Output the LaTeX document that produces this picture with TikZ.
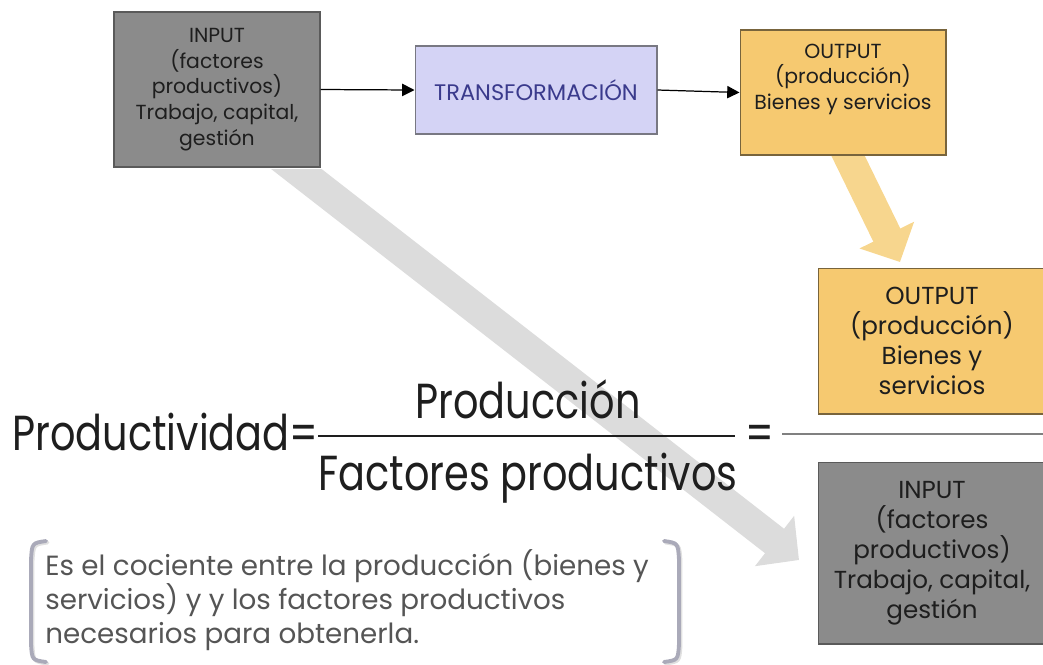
\documentclass[tikz,border=0pt]{standalone}
\usepackage{fontspec}
\setmainfont{Poppins}
\usetikzlibrary{arrows.meta,calc}
\definecolor{boxgray}{RGB}{139,139,139}
\definecolor{boxgrayline}{RGB}{90,90,90}
\definecolor{lav}{RGB}{212,211,245}
\definecolor{lavline}{RGB}{120,120,130}
\definecolor{lavtext}{RGB}{58,58,140}
\definecolor{ylw}{RGB}{246,201,112}
\definecolor{ylwline}{RGB}{120,100,60}
\definecolor{ylwarrow}{RGB}{247,214,142}
\definecolor{grayarrow}{RGB}{220,220,220}
\definecolor{txt}{RGB}{30,30,30}
\definecolor{notetxt}{RGB}{85,85,85}
\definecolor{brk}{RGB}{170,170,185}
\tikzset{
  graybox/.style={draw=boxgrayline, fill=boxgray, line width=0.6pt, inner sep=0pt},
  lavbox/.style={draw=lavline, fill=lav, line width=0.6pt, inner sep=0pt},
  ylwbox/.style={draw=ylwline, fill=ylw, line width=0.6pt, inner sep=0pt},
  smalltext/.style={align=center, text=txt, font=\fontsize{11.6}{14.7}\selectfont},
  bigtext/.style={align=center, text=txt, font=\fontsize{14}{17}\selectfont},
  flowarrow/.style={draw=black, line width=0.7pt, -{Triangle[length=7pt,width=7pt]}},
  fatgray/.style={draw=grayarrow, line width=0.62cm, -{Triangle[length=0.62cm,width=1.24cm]}},
  fatylw/.style={draw=ylwarrow, line width=0.6cm, -{Triangle[length=0.6cm,width=1.18cm]}},
  formula/.style={text=txt, inner sep=0pt, font=\fontsize{28}{30}\selectfont},
}
\begin{document}
\begin{tikzpicture}[x=0.02cm,y=-0.02cm]
\useasboundingbox (0,0) rectangle (1043,664);

% boxes
\node[graybox, minimum width=4.12cm, minimum height=3.1cm] (in1) at (217,89.5) {};
\node[smalltext] (in1t) at (in1.center) {INPUT\\(factores\\productivos)\\Trabajo, capital,\\gestión};
\node[lavbox, minimum width=4.84cm, minimum height=1.76cm, text=lavtext, font=\fontsize{12.8}{14}\selectfont] (tr) at (536,90) {TRANSFORMACIÓN};
\node[ylwbox, minimum width=4.12cm, minimum height=2.5cm] (out1) at (843,92.5) {};
\node[smalltext, anchor=north] (out1t) at ($(out1.north)+(0,8)$) {OUTPUT\\(producción)\\Bienes y servicios};

\node[ylwbox, minimum width=4.56cm, minimum height=2.92cm] (out2) at (932,341) {};
\node[bigtext] (out2t) at (out2.center) {OUTPUT\\(producción)\\Bienes y\\servicios};
\node[graybox, minimum width=4.56cm, minimum height=3.64cm] (in2) at (932,553) {};
\node[bigtext] (in2t) at (in2.center) {INPUT\\(factores\\productivos)\\Trabajo, capital,\\gestión};

% flow arrows
\draw[flowarrow] (in1.east) -- (tr.west);
\draw[flowarrow] (tr.east) -- (out1.west);

% fat arrows (start cut level with the box bottoms)
\coordinate (gtip) at (799,560);
\begin{scope}
  \clip (0,169) rectangle (1043,664);
  \draw[fatgray] ($(in1.south)+(53,-19)$) -- (gtip);
\end{scope}
\coordinate (ytip) at (900,262);
\begin{scope}
  \clip (0,156) rectangle (1043,664);
  \draw[fatylw] ($(out1.south)+(0,-10)$) -- (ytip);
\end{scope}

% formula
\node[formula, anchor=base west] (prod) at (12,450) {\scalebox{0.81}[1]{Productividad=}};
\node[formula, anchor=base] (num) at (528,418) {\scalebox{0.81}[1]{Producción}};
\node[formula, anchor=base] (den) at (528,490) {\scalebox{0.81}[1]{Factores productivos}};
\draw[txt, line width=1.3pt] (318,436) -- (735,436);
\node[formula, anchor=base] (eq) at (760,450) {\scalebox{0.81}[1]{=}};
\draw[gray, line width=0.8pt] (782,434) -- (1043,434);

% note with brackets
\foreach \o/\c in {1.5/black!12, 0/brk}{
  \draw[\c, line width=2.2pt, line cap=round] ($(46,541)+(\o,\o)$) .. controls ($(32,543)+(\o,\o)$) .. ($(31,560)+(\o,\o)$) -- ($(31,644)+(\o,\o)$) .. controls ($(32,660)+(\o,\o)$) .. ($(46,662)+(\o,\o)$);
  \draw[\c, line width=2.2pt, line cap=round] ($(664,541)+(\o,\o)$) .. controls ($(678,543)+(\o,\o)$) .. ($(679,560)+(\o,\o)$) -- ($(679,644)+(\o,\o)$) .. controls ($(678,660)+(\o,\o)$) .. ($(664,662)+(\o,\o)$);
}
\node[anchor=north west, inner sep=0pt, align=left, text=notetxt, font=\fontsize{15.8}{19.3}\selectfont] (note) at (45,549) {Es el cociente entre la producción (bienes y\\servicios) y y los factores productivos\\necesarios para obtenerla.};
\end{tikzpicture}
\end{document}
